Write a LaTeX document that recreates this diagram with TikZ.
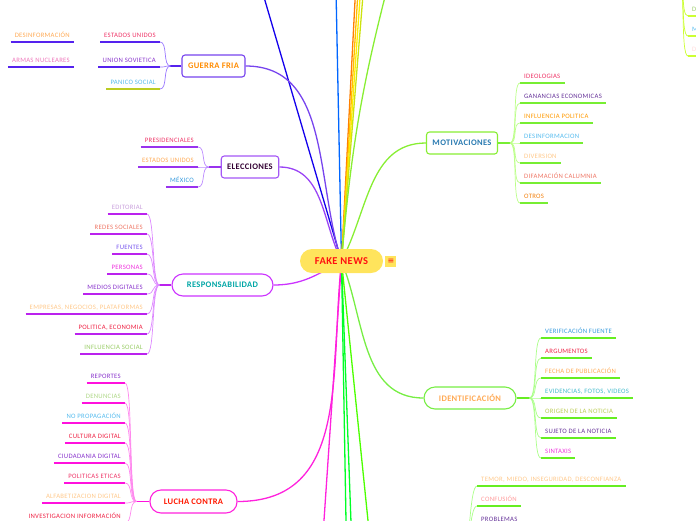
\documentclass[tikz,border=0pt]{standalone}
\usepackage{fontspec}
\setmainfont{Carlito}
\newfontfamily\leaffont[LetterSpace=4.5]{Carlito}
\newfontfamily\topicfont[LetterSpace=4]{Carlito}
\newfontfamily\symbolfont{DejaVu Sans}
\usetikzlibrary{positioning, backgrounds}

\definecolor{newsyellow}{HTML}{FFE45C}
\definecolor{newsred}{HTML}{FF1010}
% main branches
\definecolor{guerraline}{HTML}{7744EE}
\definecolor{eleccline}{HTML}{9A44F5}
\definecolor{respline}{HTML}{CC33FF}
\definecolor{luchaline}{HTML}{FF22DD}
\definecolor{motivline}{HTML}{88EE33}
\definecolor{identline}{HTML}{77EE44}
% children lines
\definecolor{guerrauline}{HTML}{5522EE}
\definecolor{guerratwig}{HTML}{9977FF}
\definecolor{elecculine}{HTML}{9933EE}
\definecolor{elecctwig}{HTML}{BB88FF}
\definecolor{respuline}{HTML}{BB22EE}
\definecolor{resptwig}{HTML}{DD88FF}
\definecolor{luchauline}{HTML}{FF11DD}
\definecolor{luchatwig}{HTML}{FF88EE}
\definecolor{motivuline}{HTML}{77EE33}
\definecolor{motivtwig}{HTML}{BBFF88}
\definecolor{identuline}{HTML}{66EE22}
\definecolor{identtwig}{HTML}{AAFF88}
\definecolor{limeuline}{HTML}{CCFF33}
\definecolor{panicouline}{HTML}{BBCC22}
% text colours
\definecolor{tpink}{HTML}{EE3366}
\definecolor{tred}{HTML}{EE2244}
\definecolor{torange}{HTML}{FFAA55}
\definecolor{tpeach}{HTML}{FFC88A}
\definecolor{tpurple}{HTML}{8833CC}
\definecolor{tplum}{HTML}{663399}
\definecolor{tblue}{HTML}{3399DD}
\definecolor{tsky}{HTML}{55BBEE}
\definecolor{tgreen}{HTML}{99CC66}
\definecolor{tlime}{HTML}{BBCC55}
\definecolor{tmagenta}{HTML}{EE33DD}
\definecolor{tsalmon}{HTML}{EE7766}
\definecolor{tlilac}{HTML}{C9A0DC}
\definecolor{tviolet}{HTML}{7755EE}
\definecolor{trose}{HTML}{EE77BB}
\definecolor{tteal}{HTML}{44BBCC}

\tikzset{
  topic/.style={draw, line width=1.1pt, fill=white, minimum height=22pt, inner xsep=6pt,
    font=\topicfont\bfseries\fontsize{8.5}{10}\selectfont},
  pilltopic/.style={topic, rounded corners=11pt},
  boxtopic/.style={topic, rounded corners=3pt},
  leaf/.style={inner xsep=4pt, inner ysep=2.5pt, text height=5pt, text depth=1.5pt,
    font=\leaffont\fontsize{6.7}{8}\selectfont},
  uline/.style={line width=1.4pt},
  twig/.style={line width=0.7pt},
  limb/.style={line width=1.3pt},
}

\begin{document}
\begin{tikzpicture}[x=1pt, y=-1pt]
\useasboundingbox (0,0) rectangle (696,520);
\clip (0,0) rectangle (696,520);

% central topic
\node[fill=newsyellow, rounded corners=12pt, minimum width=83pt, minimum height=24pt,
  text=newsred, font=\topicfont\bfseries\fontsize{10.5}{12}\selectfont] (fake) at (341.5,261) {FAKE NEWS};
\node[fill=newsyellow, minimum size=11pt, inner sep=0pt, right=2pt of fake,
  text=newsred, font=\symbolfont\fontsize{8}{8}\selectfont] (menu) {≡};

% main topics
\node[boxtopic, draw=guerraline, text=orange!90!yellow, minimum width=61pt] (guerra) at (213.5,66) {GUERRA FRIA};
\node[boxtopic, draw=eleccline!90, text=black!60!violet, minimum width=56pt] (elecc) at (250,167) {ELECCIONES};
\node[boxtopic, draw=motivline, text=tblue!80!black, minimum width=68pt] (motiv) at (462,143) {MOTIVACIONES};
\node[pilltopic, draw=respline, text=teal!70!cyan, minimum width=101pt] (resp) at (222.5,285) {RESPONSABILIDAD};
\node[pilltopic, draw=identline, text=torange, minimum width=92pt] (ident) at (470,398) {IDENTIFICACIÓN};
\node[pilltopic, draw=luchaline, text=red!80!orange, minimum width=87pt, minimum height=23pt] (lucha) at (193.5,501.5) {LUCHA CONTRA};

% branches leaving the picture
\coordinate (upA) at (256,-30);
\coordinate (upB) at (335.6,-30);
\coordinate (upC) at (356.6,-30);
\coordinate (upD) at (359.3,-30);
\coordinate (upE) at (362,-30);
\coordinate (upF) at (365,-30);
\coordinate (upG) at (392,-30);
\coordinate (downA) at (322,550);
\coordinate (downB) at (346.5,550);
\coordinate (downC) at (352,550);
\coordinate (downD) at (371,550);

\begin{scope}[on background layer]
  \draw[limb, blue!85!violet] (fake.center) -- (upA);
  \draw[limb, blue!60!cyan] (fake.center) -- (upB);
  \draw[limb, orange] (fake.center) -- (upC);
  \draw[limb, orange!50!yellow] (fake.center) -- (upD);
  \draw[limb, yellow!95!orange] (fake.center) -- (upE);
  \draw[limb, yellow!80!green] (fake.center) -- (upF);
  \draw[limb, motivline] (fake.center) to[bend left=5] (upG);
  \draw[limb, luchaline] (fake.center) -- (downA);
  \draw[limb, green!85!cyan] (fake.center) -- (downB);
  \draw[limb, green!85!cyan] (fake.center) -- (downC);
  \draw[limb, green!70!yellow] (fake.center) -- (downD);
  % curved branches to the main topics
  \draw[limb, guerraline] (guerra.east) to[out=0, in=108] (fake.center);
  \draw[limb, eleccline] (elecc.east) to[out=0, in=116] (fake.center);
  \draw[limb, motivline] (motiv.west) to[out=180, in=62] (fake.center);
  \draw[limb, respline] (resp.east) to[out=0, in=-150] (fake.center);
  \draw[limb, identline] (ident.west) to[out=180, in=-68] (fake.center);
  \draw[limb, luchaline] (lucha.east) to[out=0, in=-96, looseness=1.1] (fake.center);
\end{scope}

% junctions
\coordinate[left=11pt of guerra] (guerraj);
\coordinate[left=12pt of elecc] (eleccj);
\coordinate[left=12pt of resp] (respj);
\coordinate[left=13pt of lucha] (luchaj);
\coordinate[right=12pt of motiv] (motivj);
\coordinate[right=13pt of ident] (identj);
\draw[uline, guerrauline] (guerra.west) -- (guerraj);
\draw[uline, elecculine] (elecc.west) -- (eleccj);
\draw[uline, respuline] (resp.west) -- (respj);
\draw[uline, luchauline] (lucha.west) -- (luchaj);
\draw[uline, motivuline] (motiv.east) -- (motivj);
\draw[uline, identuline] (ident.east) -- (identj);

% GUERRA FRIA
\foreach \yy/\lbl/\col/\ucol [count=\i] in {42/ESTADOS UNIDOS/tpink/guerrauline,
    67/UNION SOVIETICA/tpurple/guerrauline, 89/PANICO SOCIAL/tsky/panicouline} {
  \node[leaf, text=\col, anchor=south east] (guerra-\i) at (160,\yy) {\lbl};
  \draw[uline, \ucol] (guerra-\i.south west) -- (guerra-\i.south east);
  \draw[twig, guerratwig] (guerraj) .. controls +(-8,0) and +(8,0) .. (guerra-\i.south east);
}
\node[leaf, text=torange, anchor=south east] (desinfo) at (74,42) {DESINFORMACIÓN};
\draw[uline, guerrauline] (desinfo.south west) -- (desinfo.south east);
\node[leaf, text=trose, anchor=south east] (armas) at (74,67) {ARMAS NUCLEARES};
\draw[uline, guerrauline] (armas.south west) -- (armas.south east);

% ELECCIONES
\foreach \yy/\lbl/\col [count=\i] in {147/PRESIDENCIALES/tpink, 167/ESTADOS UNIDOS/torange, 187/MÉXICO/tblue} {
  \node[leaf, text=\col, anchor=south east] (elecc-\i) at (198,\yy) {\lbl};
  \draw[uline, elecculine] (elecc-\i.south west) -- (elecc-\i.south east);
  \draw[twig, elecctwig] (eleccj) .. controls +(-8,0) and +(8,0) .. (elecc-\i.south east);
}

% RESPONSABILIDAD
\foreach \yy/\lbl/\col [count=\i] in {214/EDITORIAL/tlilac, 234/REDES SOCIALES/tsalmon,
    254/FUENTES/tviolet, 274/PERSONAS/tmagenta, 294/MEDIOS DIGITALES/tpurple,
    314/{EMPRESAS, NEGOCIOS, PLATAFORMAS}/tpeach, 334/{POLITICA, ECONOMIA}/tred,
    354/INFLUENCIA SOCIAL/tgreen} {
  \node[leaf, text=\col, anchor=south east] (resp-\i) at (147,\yy) {\lbl};
  \draw[uline, respuline] (resp-\i.south west) -- (resp-\i.south east);
  \draw[twig, resptwig] (respj) .. controls +(-8,0) and +(8,0) .. (resp-\i.south east);
}

% LUCHA CONTRA
\foreach \yy/\lbl/\col [count=\i] in {383/REPORTES/tpurple, 403/DENUNCIAS/tgreen!80,
    423/NO PROPAGACIÓN/tsky, 443/CULTURA DIGITAL/tred, 463/CIUDADANIA DIGITAL/tpurple,
    483/POLITICAS ETICAS/tpink, 503/ALFABETIZACION DIGITAL/tpeach,
    523/INVESTIGACION INFORMACIÓN/tred} {
  \node[leaf, text=\col, anchor=south east] (lucha-\i) at (125,\yy) {\lbl};
  \draw[uline, luchauline] (lucha-\i.south west) -- (lucha-\i.south east);
  \draw[twig, luchatwig] (luchaj) .. controls +(-8,0) and +(8,0) .. (lucha-\i.south east);
}

% MOTIVACIONES
\foreach \yy/\lbl/\col [count=\i] in {83/IDEOLOGIAS/tpink, 103/GANANCIAS ECONOMICAS/tplum,
    123/INFLUENCIA POLITICA/orange!80!yellow, 143/DESINFORMACION/tsky, 163/DIVERSION/tpeach,
    183/DIFAMACIÓN CALUMNIA/tsalmon, 203/OTROS/orange!80!brown} {
  \node[leaf, text=\col, anchor=south west] (motiv-\i) at (520,\yy) {\lbl};
  \draw[uline, motivuline] (motiv-\i.south west) -- (motiv-\i.south east);
  \draw[twig, motivtwig] (motivj) .. controls +(8,0) and +(-8,0) .. (motiv-\i.south west);
}

% IDENTIFICACION
\foreach \yy/\lbl/\col [count=\i] in {338/VERIFICACIÓN FUENTE/tblue, 358/ARGUMENTOS/tred,
    378/FECHA DE PUBLICACIÓN/torange, 398/{EVIDENCIAS, FOTOS, VIDEOS}/tteal,
    418/ORIGEN DE LA NOTICIA/tlime, 438/SUJETO DE LA NOTICIA/tplum, 458/SINTAXIS/tmagenta} {
  \node[leaf, text=\col, anchor=south west] (ident-\i) at (541,\yy) {\lbl};
  \draw[uline, identuline] (ident-\i.south west) -- (ident-\i.south east);
  \draw[twig, identtwig] (identj) .. controls +(8,0) and +(-8,0) .. (ident-\i.south west);
}

% branch below the picture
\coordinate (lowj) at (462,560);
\foreach \yy/\lbl/\col [count=\i] in {486/{TEMOR, MIEDO, INSEGURIDAD, DESCONFIANZA}/tpeach,
    506/CONFUSIÓN/pink!80!red, 526/PROBLEMAS/tplum} {
  \node[leaf, text=\col, anchor=south west] (low-\i) at (477,\yy) {\lbl};
  \draw[uline, identuline] (low-\i.south west) -- (low-\i.south east);
  \draw[twig, identtwig] (lowj) .. controls +(8,0) and +(-8,0) .. (low-\i.south west);
}

% branch at the top right corner
\coordinate (cornerj) at (678,-25);
\foreach \yy/\lbl/\col [count=\i] in {16/D/tgreen, 36/M/tsky, 56/D/pink!60} {
  \node[leaf, text=\col, anchor=south west] (corner-\i) at (688,\yy) {\lbl};
  \draw[uline, limeuline] (corner-\i.south west) -- +(20,0);
  \draw[twig, limeuline] (cornerj) .. controls +(8,0) and +(-8,0) .. (corner-\i.south west);
}
\end{tikzpicture}
\end{document}
